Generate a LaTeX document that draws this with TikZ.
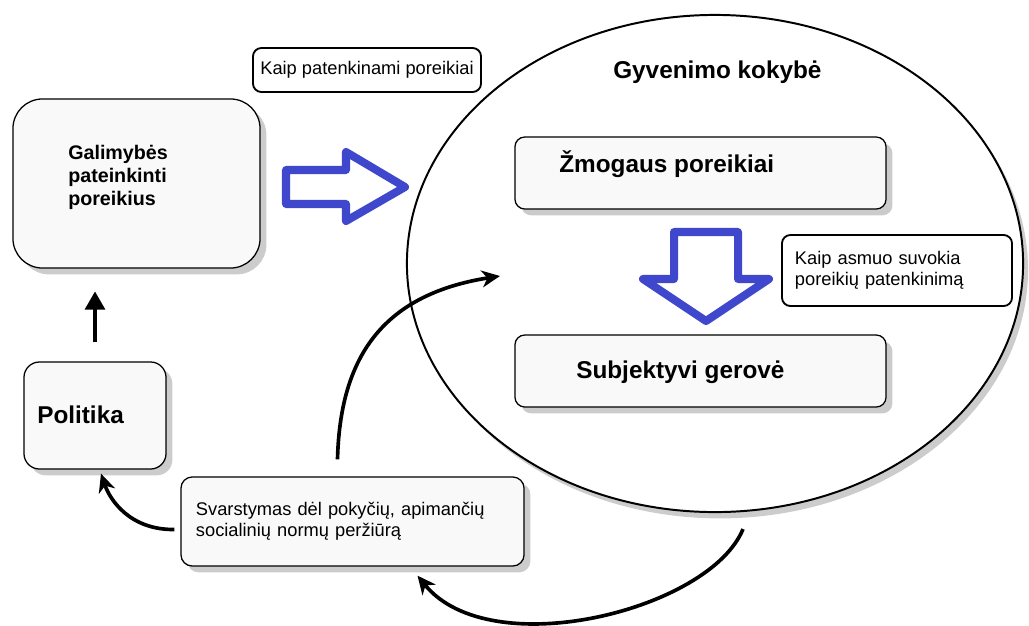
\documentclass[tikz,border=0pt]{standalone}
\usepackage{fontspec}
\setmainfont{Liberation Sans}
\usetikzlibrary{calc,shapes.geometric,shadows,arrows.meta}
\definecolor{arrowblue}{RGB}{63,72,204}

\begin{document}
\begin{tikzpicture}[x=0.025cm, y=-0.025cm,
    box/.style={draw, line width=0.9pt, fill=gray!5,
      drop shadow={shadow xshift=4.5pt, shadow yshift=-4.5pt, fill=gray!80}},
    tag/.style={draw, line width=1.3pt, rounded corners=6pt, fill=white, align=left,
      font=\fontsize{13}{15}\selectfont},
    head/.style={inner sep=0pt, font=\fontsize{17.3}{20}\selectfont\bfseries},
    loop/.style={line width=2.6pt, -{Stealth[length=13pt, width=12pt, inset=4pt]}},
    hollow/.style={draw=arrowblue, line width=5.7pt, line join=round, fill=white}]

  \useasboundingbox (0,0) rectangle (1029,625);

  % quality of life
  \node[ellipse, draw, line width=1.4pt, fill=white, inner sep=0pt,
    minimum width=15.4cm, minimum height=12.425cm,
    drop shadow={shadow xshift=3.5pt, shadow yshift=-4.5pt, fill=gray!80}] (kokybe) at (715,263.5) {};
  \node[head, anchor=base west] (kokybetxt) at (613,78) {Gyvenimo kokybė};

  \node[box, rounded corners=7pt, minimum width=9.275cm, minimum height=1.8cm] (poreikiai) at (700.5,173) {};
  \node[head, anchor=base west] (poreikiaitxt) at (559,172) {Žmogaus poreikiai};
  \node[box, rounded corners=7pt, minimum width=9.275cm, minimum height=1.8cm] (gerove) at (700.5,371) {};
  \node[head, anchor=base west] (gerovetxt) at (576,378) {Subjektyvi gerovė};

  \draw[hollow] (674,232) -- (738,232) -- (738,279) -- (769,279) -- (706,321)
    -- (643,279) -- (674,279) -- cycle;
  \node[tag, text width=5.1cm, inner xsep=0.325cm, minimum height=1.775cm] (suvokia)
    at (897,270.5) {Kaip asmuo suvokia\\poreikių patenkinimą};

  % outside
  \node[box, rounded corners=21pt, minimum width=6.175cm, minimum height=4.225cm] (galimybes) at (136.5,183.5) {};
  \node[anchor=west, align=left, inner sep=0pt, font=\fontsize{14}{16.4}\selectfont\bfseries]
    (galimybestxt) at (68,177) {Galimybės\\pateinkinti\\poreikius};
  \node[tag, minimum width=5.7cm, minimum height=1.1cm] (patenkinami) at (367,70) {Kaip patenkinami poreikiai};
  \draw[hollow] (286,170) -- (346,170) -- (346,152) -- (405,187) -- (346,221)
    -- (346,204) -- (286,204) -- cycle;

  \node[box, rounded corners=11pt, minimum width=3.55cm, minimum height=2.675cm] (politika) at (95,415.5) {};
  \node[head, anchor=base west] (politikatxt) at (37,423) {Politika};
  \node[box, rounded corners=8pt, align=left, font=\fontsize{13}{15}\selectfont,
    text width=7.825cm, inner xsep=0.375cm, minimum height=2.225cm] (svar)
    at (352.5,521.5) {Svarstymas dėl pokyčių, apimančių\\socialinių normų peržiūrą};

  % connectors
  \coordinate (inside) at (500,276);
  \draw[line width=2.8pt, -{Triangle[length=13pt, width=14pt]}]
    ($(politika.north)+(0,-19)$) -- ++(0,-51);
  \draw[loop] ($(svar.west)+(-6,8)$) .. controls (130,530) and (110,500) .. ($(politika.south)+(6,4)$);
  \draw[loop] ($(svar.north)+(-15,-17)$) .. controls (340,360) and (380,295) .. (inside);
  \draw[loop] ($(kokybe.south)+(28,16)$) .. controls (710,610) and (490,665) .. ($(svar.south)+(65,9)$);
\end{tikzpicture}
\end{document}
